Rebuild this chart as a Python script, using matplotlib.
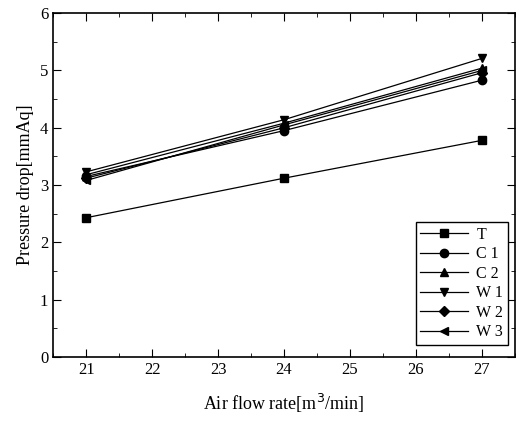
import matplotlib.pyplot as plt
from matplotlib.ticker import MultipleLocator

plt.rcParams['font.family'] = ['Liberation Serif', 'DejaVu Serif']

flow = [21, 24, 27]
series = {
    'T':  [2.43, 3.12, 3.78],
    'C1': [3.15, 3.95, 4.83],
    'C2': [3.18, 4.08, 5.04],
    'W1': [3.23, 4.14, 5.21],
    'W2': [3.12, 4.00, 4.96],
    'W3': [3.08, 4.05, 5.00],
}
markers = {'T': 's', 'C1': 'o', 'C2': '^', 'W1': 'v', 'W2': 'D', 'W3': '<'}
labels = {'T': 'T', 'C1': 'C 1', 'C2': 'C 2', 'W1': 'W 1', 'W2': 'W 2', 'W3': 'W 3'}

fig = plt.figure(figsize=(5.16, 4.23), dpi=100)
ax = fig.add_axes([0.103, 0.156, 0.895, 0.813])

for name, vals in series.items():
    ms = 5 if markers[name] == 'D' else 6
    ax.plot(flow, vals, color='black', lw=0.9, marker=markers[name],
            markersize=ms, label=labels[name])

ax.set_xlim(20.5, 27.5)
ax.set_ylim(0, 6)
ax.xaxis.set_major_locator(MultipleLocator(1))
ax.xaxis.set_minor_locator(MultipleLocator(0.5))
ax.yaxis.set_major_locator(MultipleLocator(1))
ax.yaxis.set_minor_locator(MultipleLocator(0.5))
ax.tick_params(which='both', direction='in', top=True, right=True, labelsize=12)
ax.tick_params(which='major', length=6)
ax.tick_params(which='minor', length=3)
for s in ax.spines.values():
    s.set_linewidth(1.2)

ax.set_xlabel('Air flow rate[m$^3$/min]', fontsize=13, labelpad=10)
ax.set_ylabel('Pressure drop[mmAq]', fontsize=13)

leg = ax.legend(loc='lower right', fontsize=11.5, fancybox=False, framealpha=1,
                edgecolor='black', handlelength=3.0, handletextpad=0.5,
                borderpad=0.3, labelspacing=0.22, borderaxespad=0,
                bbox_to_anchor=(0.985, 0.035))
leg.get_frame().set_linewidth(1.0)

fig.savefig('out.png', dpi=100)
